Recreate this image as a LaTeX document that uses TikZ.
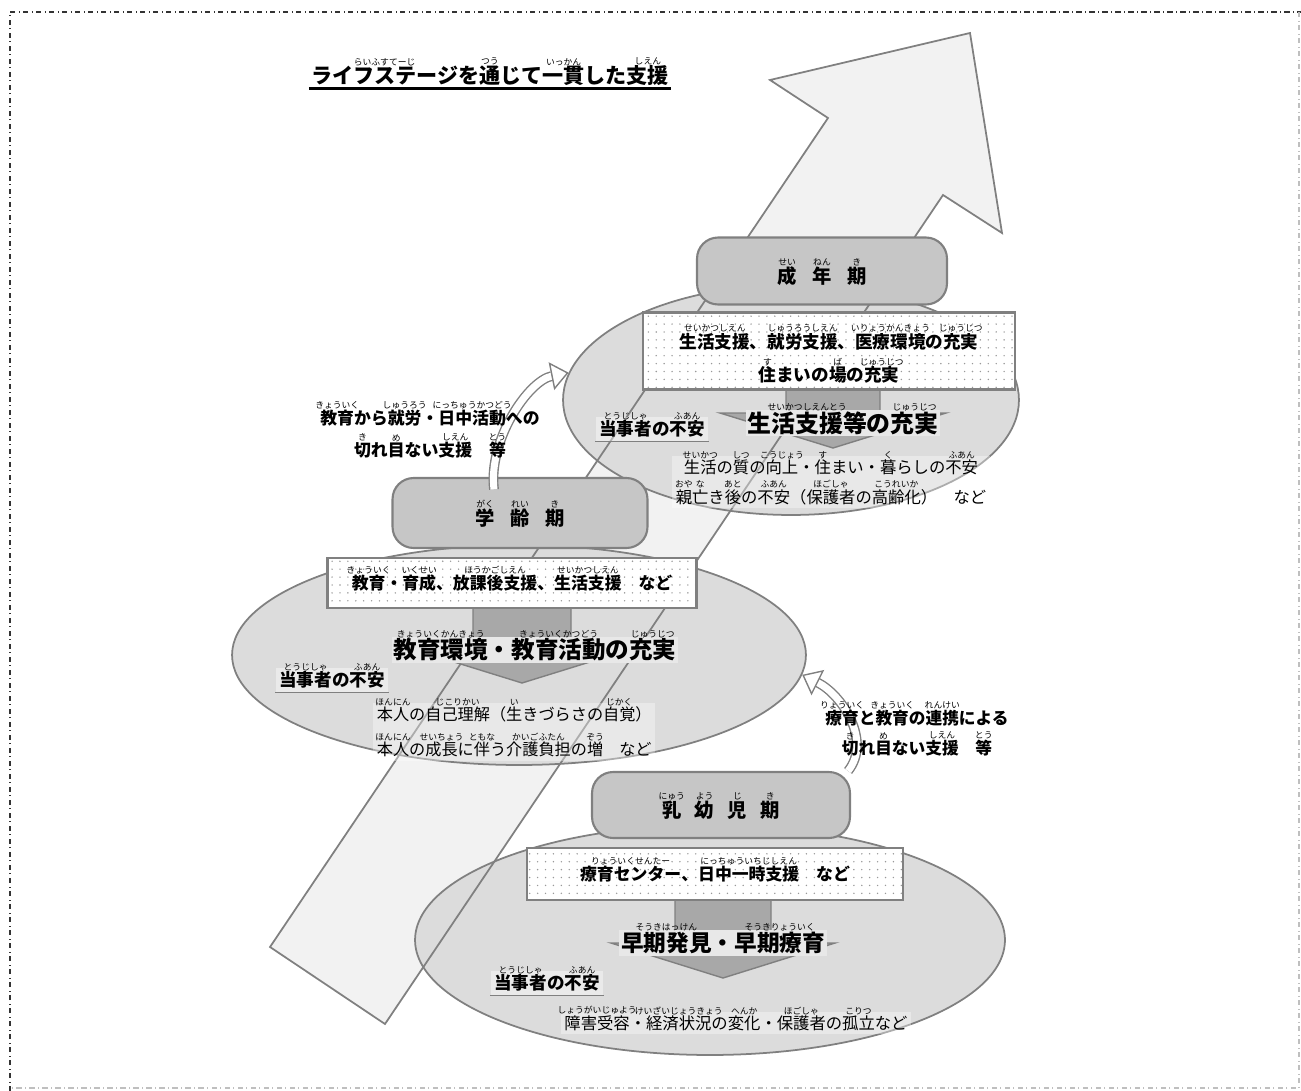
\documentclass[tikz,border=0pt]{standalone}
\usepackage{fontspec}
\setmainfont{Noto Sans CJK JP}
\usetikzlibrary{shapes.geometric}
\usetikzlibrary{arrows.meta}
\usetikzlibrary{patterns.meta}
\definecolor{linegray}{HTML}{808080}
\definecolor{ellfill}{HTML}{DCDCDC}
\definecolor{arrowfill}{HTML}{F2F2F2}
\definecolor{stagefill}{HTML}{C6C6C6}
\definecolor{chevfill}{HTML}{A8A8A8}
\definecolor{bandfill}{HTML}{E8E8E8}
\newcommand\furifont{\fontsize{5}{5}\selectfont\mdseries}
\newcommand\furi[2]{\leavevmode\setbox0=\hbox{#1}\rlap{\raisebox{\dimexpr\ht0+0.8pt\relax}[0pt][0pt]{\makebox[\wd0]{\furifont #2}}}\box0}
\tikzset{
	frame_line/.style = {
		dash dot,
		line width=0.8pt,
		black!80
	},
	big_arrow/.style = {
		draw=linegray,
		line width=1pt,
		line join=miter
	},
	stage_ell/.style = {
		ellipse,
		draw=linegray,
		line width=1pt,
		fill=ellfill,
		inner sep=0pt
	},
	stage_box/.style = {
		rectangle,
		rounded corners=12pt,
		draw=linegray,
		line width=1.2pt,
		fill=stagefill,
		font=\fontsize{11}{13}\selectfont\bfseries,
		text height=15pt,
		text depth=1pt
	},
	dot_box/.style = {
		rectangle,
		draw=linegray,
		line width=1.4pt,
		preaction={fill=white},
		pattern={Dots[distance=4.5pt, radius=0.45pt]},
		pattern color=gray!80,
		align=center,
		font=\fontsize{10}{19}\selectfont\bfseries
	},
	chev/.style = {
		draw=linegray,
		line width=0.8pt,
		fill=chevfill
	},
	head_text/.style = {
		fill=bandfill,
		inner sep=1pt,
		font=\fontsize{13.6}{15}\selectfont\bfseries
	},
	worry_text/.style = {
		fill=white,
		fill opacity=0.4,
		text opacity=1,
		inner sep=2pt,
		font=\fontsize{10}{12}\selectfont\bfseries
	},
	desc_text/.style = {
		fill=white,
		fill opacity=0.35,
		text opacity=1,
		inner sep=2pt,
		font=\fontsize{9.3}{17}\selectfont
	},
	side_text/.style = {
		align=center,
		inner sep=1pt,
		font=\fontsize{9.6}{18}\selectfont\bfseries
	},
	hollow_arrow/.style = {
		draw=linegray,
		line width=0.8pt,
		double=white,
		double distance=4pt,
		-{Triangle[length=10pt, width=16pt, fill=white]}
	}
}
\begin{document}
\begin{tikzpicture}[x=0.02cm, y=-0.02cm]
\useasboundingbox (0,0) rectangle (1301,1091);
\draw[frame_line] (10,1091) -- (10,12) -- (1301,12);
\draw[frame_line, black!25] (1299,12) -- (1299,1088) -- (10,1088);

\coordinate (arr_tl) at (270,947);
\coordinate (arr_nl) at (828,118);
\coordinate (arr_bl) at (770,80);
\coordinate (arr_tip) at (970,33);
\coordinate (arr_br) at (1002,233);
\coordinate (arr_nr) at (943,195);
\coordinate (arr_tr) at (385,1024);
\fill[arrowfill] (arr_tl) -- (arr_nl) -- (arr_bl) -- (arr_tip) -- (arr_br) -- (arr_nr) -- (arr_tr) -- cycle;

\node[stage_ell, minimum width=9.12cm, minimum height=4.6cm] (adult_ell) at (791,400) {};
\node[stage_ell, minimum width=11.48cm, minimum height=4.4cm] (school_ell) at (519,655) {};
\node[stage_ell, minimum width=11.8cm, minimum height=4.6cm] (infant_ell) at (710,940) {};

\draw[big_arrow] (arr_tl) -- (arr_nl) -- (arr_bl) -- (arr_tip) -- (arr_br) -- (arr_nr) -- (arr_tr) -- cycle;

\draw[chev] (786,386) -- (786,413) -- (720,413) -- (833,448) -- (946,413) -- (880,413) -- (880,386) -- cycle;
\draw[chev] (473,606) -- (473,648) -- (409,648) -- (522,683) -- (635,648) -- (571,648) -- (571,606) -- cycle;
\draw[chev] (675,898) -- (675,943) -- (611,943) -- (723,978) -- (835,943) -- (771,943) -- (771,898) -- cycle;

\node[stage_box, minimum width=5.0cm, minimum height=1.34cm] (adult_box) at (822,271) {\furi{成}{せい}\hspace{0.8em}\furi{年}{ねん}\hspace{0.8em}\furi{期}{き}};
\node[stage_box, minimum width=5.1cm, minimum height=1.4cm] (school_box) at (520,513) {\furi{学}{がく}\hspace{0.8em}\furi{齢}{れい}\hspace{0.8em}\furi{期}{き}};
\node[stage_box, minimum width=5.16cm, minimum height=1.32cm] (infant_box) at (721,805) {\furi{乳}{にゅう}\hspace{0.7em}\furi{幼}{よう}\hspace{0.7em}\furi{児}{じ}\hspace{0.7em}\furi{期}{き}};

\node[dot_box, minimum width=7.44cm, minimum height=1.5cm] (adult_dots) at (829,351) {\rule{0pt}{17pt}\furi{生活支援}{せいかつしえん}、\furi{就労支援}{しゅうろうしえん}、\furi{医療環境}{いりょうかんきょう}の\furi{充実}{じゅうじつ}\\\furi{住}{す}まいの\furi{場}{ば}の\furi{充実}{じゅうじつ}};
\node[dot_box, minimum width=7.38cm, minimum height=1.0cm, font=\fontsize{9.6}{12}\selectfont\bfseries] (school_dots) at (512,583) {\furi{教育}{きょういく}・\furi{育成}{いくせい}、\furi{放課後支援}{ほうかごしえん}、\furi{生活支援}{せいかつしえん}　など};
\node[dot_box, minimum width=7.52cm, minimum height=1.04cm, font=\fontsize{9.6}{12}\selectfont\bfseries] (infant_dots) at (715,874) {\furi{療育センター}{りょういくせんたー}、\furi{日中一時支援}{にっちゅういちじしえん}　など};

\node[head_text] (adult_head) at (843,423) {\furi{生活支援等}{せいかつしえんとう}の\furi{充実}{じゅうじつ}};
\node[head_text, font=\fontsize{13.4}{15}\selectfont\bfseries] (school_head) at (535,650) {\furi{教育環境}{きょういくかんきょう}・\furi{教育活動}{きょういくかつどう}の\furi{充実}{じゅうじつ}};
\node[head_text, font=\fontsize{12.9}{15}\selectfont\bfseries] (infant_head) at (723,943) {\furi{早期発見}{そうきはっけん}・\furi{早期療育}{そうきりょういく}};

\node[worry_text] (adult_worry) at (652,429) {\furi{当事者}{とうじしゃ}の\furi{不安}{ふあん}};
\node[worry_text] (school_worry) at (332,680) {\furi{当事者}{とうじしゃ}の\furi{不安}{ふあん}};
\node[worry_text] (infant_worry) at (547,983) {\furi{当事者}{とうじしゃ}の\furi{不安}{ふあん}};
\draw[linegray, line width=0.6pt] (adult_worry.south west) -- (adult_worry.south east);
\draw[linegray, line width=0.6pt] (school_worry.south west) -- (school_worry.south east);
\draw[linegray, line width=0.6pt] (infant_worry.south west) -- (infant_worry.south east);

\node[desc_text, align=center] (adult_desc) at (831,482) {\furi{生活}{せいかつ}の\furi{質}{しつ}の\furi{向上}{こうじょう}・\furi{住}{す}まい・\furi{暮}{く}らしの\furi{不安}{ふあん}\\\furi{親}{おや}\furi{亡}{な}き\furi{後}{あと}の\furi{不安}{ふあん}（\furi{保護者}{ほごしゃ}の\furi{高齢化}{こうれいか}）　など};
\node[desc_text, align=left, anchor=west, font=\fontsize{9.2}{20}\selectfont] (school_desc) at (373,732) {\furi{本人}{ほんにん}の\furi{自己理解}{じこりかい}（\furi{生}{い}きづらさの\furi{自覚}{じかく}）\\\furi{本人}{ほんにん}の\furi{成長}{せいちょう}に\furi{伴}{ともな}う\furi{介護負担}{かいごふたん}の\furi{増}{ぞう}　など};
\node[desc_text] (infant_desc) at (736,1023) {\furi{障害受容}{しょうがいじゅよう}・\furi{経済状況}{けいざいじょうきょう}の\furi{変化}{へんか}・\furi{保護者}{ほごしゃ}の\furi{孤立}{こりつ}など};

\draw[hollow_arrow] ([xshift=-0.52cm, yshift=-0.25cm]school_box.north) .. controls +(-6,-50) and +(-40,8) .. (adult_ell.173);
\draw[hollow_arrow] (infant_box.15) .. controls +(24,-30) and +(40,20) .. (school_ell.-4);

\node[side_text] (school_adult) at (430,434) {\furi{教育}{きょういく}から\furi{就労}{しゅうろう}・\furi{日中活動}{にっちゅうかつどう}への\\\furi{切}{き}れ\furi{目}{め}ない\furi{支援}{しえん}　\furi{等}{とう}};
\node[side_text, font=\fontsize{9.5}{17}\selectfont\bfseries] (infant_school) at (917,733) {\furi{療育}{りょういく}と\furi{教育}{きょういく}の\furi{連携}{れんけい}による\\\furi{切}{き}れ\furi{目}{め}ない\furi{支援}{しえん}　\furi{等}{とう}};

\node[inner sep=1pt, font=\fontsize{12}{13}\selectfont\bfseries] (title) at (490,76) {\furi{ライフステージ}{らいふすてーじ}を\furi{通}{つう}じて\furi{一貫}{いっかん}した\furi{支援}{しえん}};
\draw[line width=1.6pt] (title.south west) -- (title.south east);
\end{tikzpicture}
\end{document}
